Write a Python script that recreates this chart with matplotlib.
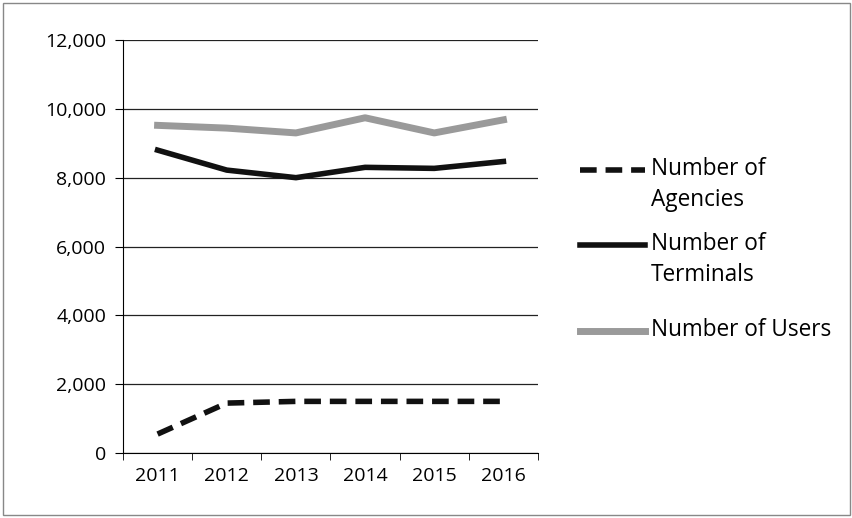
import matplotlib.pyplot as plt
from matplotlib.lines import Line2D
import numpy as np

years = ["2011", "2012", "2013", "2014", "2015", "2016"]
agencies = [550, 1450, 1500, 1500, 1500, 1500]
terminals = [8800, 8220, 8000, 8300, 8270, 8470]
users = [9520, 9440, 9300, 9740, 9300, 9680]

plt.rcParams['font.family'] = ['Open Sans', 'DejaVu Sans']

W, H = 853, 518
fig = plt.figure(figsize=(W / 100, H / 100), dpi=100)
ax = fig.add_axes([123 / W, 1 - 453 / H, 415 / W, 413 / H])

x = np.arange(len(years))
styles = [
    ("Number of\nAgencies", agencies, dict(color='#111111', lw=4, ls=(0, (3, 1.6)))),
    ("Number of\nTerminals", terminals, dict(color='#111111', lw=4)),
    ("Number of Users", users, dict(color='#9a9a9a', lw=5)),
]
for label, vals, st in styles:
    ax.plot(x, vals, **st)

ax.set_xlim(-0.5, len(years) - 0.5)
ax.set_ylim(0, 12000)
ax.set_yticks(np.arange(0, 12001, 2000))
ax.set_yticklabels([f"{v:,}" for v in range(0, 12001, 2000)])
ax.set_xticks(x)
ax.set_xticklabels(years)
ax.set_xticks(np.arange(-0.5, len(years)), minor=True)
ax.tick_params(axis='x', which='major', length=0, pad=10, labelsize=14)
ax.tick_params(axis='x', which='minor', length=5, color='black')
ax.tick_params(axis='y', length=6, labelsize=14, pad=6)
ax.grid(axis='y', color='#222222', lw=0.9)
ax.set_axisbelow(True)
for s in ['top', 'right']:
    ax.spines[s].set_visible(False)

# legend drawn by hand: handle sits on the first text line
legend_y = [170, 245, 331]
for (label, vals, st), yy in zip(styles, legend_y):
    yf = 1 - yy / H
    fig.add_artist(Line2D([580 / W, 645 / W], [yf, yf], transform=fig.transFigure, **st))
    fig.text(651 / W, yf + 13 / H, label, fontsize=16.3, va='top', ha='left',
             linespacing=1.4, transform=fig.transFigure)

fig.patches.append(plt.Rectangle((0.004, 0.006), 0.992, 0.988, transform=fig.transFigure,
                                 fill=False, edgecolor='#888888', lw=1))

fig.savefig("out.png", dpi=100)
